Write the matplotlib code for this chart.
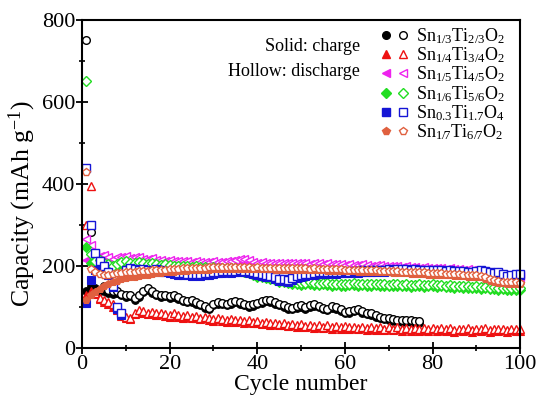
import matplotlib

matplotlib.use("Agg")
import matplotlib.pyplot as plt
import numpy as np
from matplotlib.legend_handler import HandlerTuple
from matplotlib.lines import Line2D
from matplotlib.ticker import MultipleLocator

plt.rcParams["font.family"] = "Liberation Serif"
plt.rcParams["mathtext.fontset"] = "custom"
plt.rcParams["mathtext.rm"] = "Liberation Serif"
plt.rcParams["mathtext.it"] = "Liberation Serif:italic"

# capacity (mAh g-1) per cycle
black_dis = [
    750, 282, 230, 185, 150, 142, 140, 138, 132, 128,
    130, 122, 128, 140, 146, 138, 132, 128, 130, 126,
    128, 124, 118, 115, 117, 112, 108, 102, 98, 108,
    112, 110, 108, 112, 115, 112, 108, 104, 106, 110,
    114, 118, 116, 112, 108, 104, 100, 98, 102, 105,
    100, 104, 107, 103, 98, 96, 102, 99, 95, 88,
    90, 93, 96, 90, 86, 84, 80, 76, 74, 72,
    70, 69, 68, 67, 67, 66, 66,
]
black_chg = [
    140, 150, 145, 140, 138, 135, 132, 135, 128, 124,
    126, 118, 124, 136, 142, 134, 128, 124, 126, 122,
    124, 120, 114, 111, 113, 108, 104, 98, 95, 104,
    108, 106, 104, 108, 111, 108, 104, 100, 102, 106,
    110, 114, 112, 108, 104, 100, 96, 94, 98, 101,
    96, 100, 103, 99, 94, 92, 98, 95, 91, 84,
    86, 89, 92, 86, 82, 80, 76, 72, 70, 68,
    66, 65, 64, 63, 63, 62, 62,
]
red_dis = [
    300, 395, 135, 122, 118, 112, 108, 98, 82, 76,
    74, 86, 92, 90, 86, 88, 84, 86, 82, 80,
    84, 80, 78, 80, 76, 78, 74, 76, 72, 70,
    74, 70, 68, 71, 67, 69, 66, 68, 64, 66,
    62, 64, 60, 62, 59, 61, 57, 59, 56, 58,
    54, 57, 53, 55, 52, 55, 51, 54, 50, 53,
    50, 52, 49, 52, 48, 51, 48, 50, 47, 50,
    47, 50, 46, 49, 46, 49, 45, 48, 46, 49,
    45, 48, 45, 48, 44, 47, 45, 48, 44, 47,
    45, 48, 44, 47, 45, 47, 44, 47, 45, 46,
]
red_chg = [
    128, 140, 132, 120, 112, 106, 100, 92, 78, 72,
    70, 82, 88, 86, 82, 84, 80, 82, 78, 76,
    80, 76, 74, 76, 72, 74, 70, 72, 68, 66,
    70, 66, 64, 67, 63, 65, 62, 64, 60, 62,
    58, 60, 56, 58, 55, 57, 53, 55, 52, 54,
    50, 53, 49, 51, 48, 51, 47, 50, 46, 49,
    46, 48, 45, 48, 44, 47, 44, 46, 43, 46,
    43, 46, 42, 45, 42, 45, 41, 44, 42, 45,
    41, 44, 41, 44, 40, 43, 41, 44, 40, 43,
    41, 44, 40, 43, 41, 43, 40, 43, 41, 42,
]
magenta_dis = [
    265, 250, 232, 224, 226, 222, 218, 221, 223, 225,
    219, 221, 223, 218, 216, 219, 215, 214, 213, 214,
    212, 213, 211, 212, 210, 211, 209, 210, 209, 211,
    210, 209, 211, 212, 214, 217, 218, 214, 210, 208,
    209, 207, 208, 206, 208, 207, 206, 208, 207, 206,
    207, 205, 206, 207, 205, 206, 204, 205, 204, 203,
    204, 202, 203, 204, 202, 201, 203, 202, 200, 201,
    199, 200, 198, 199, 197, 198, 196, 197, 195, 196,
    194, 195, 193, 195, 192, 193, 191, 192, 189, 190,
    188, 187, 185, 184, 182, 180, 178, 177, 176, 175,
]
magenta_chg = [
    215, 228, 222, 219, 221, 218, 214, 217, 219, 221,
    215, 217, 219, 214, 212, 215, 211, 210, 209, 210,
    208, 209, 207, 208, 206, 207, 205, 206, 205, 207,
    206, 205, 207, 208, 210, 213, 214, 210, 206, 204,
    205, 203, 204, 202, 204, 203, 202, 204, 203, 202,
    203, 201, 202, 203, 201, 202, 200, 201, 200, 199,
    200, 198, 199, 200, 198, 197, 199, 198, 196, 197,
    195, 196, 194, 195, 193, 194, 192, 193, 191, 192,
    190, 191, 189, 191, 188, 189, 187, 188, 185, 186,
    184, 183, 181, 180, 178, 176, 174, 173, 172, 171,
]
green_dis = [
    650, 230, 212, 215, 208, 205, 200, 205, 210, 212,
    208, 206, 209, 207, 205, 207, 204, 203, 205, 203,
    201, 200, 201, 199, 198, 199, 197, 198, 196, 197,
    196, 195, 196, 195, 194, 193, 190, 186, 182, 178,
    176, 174, 171, 169, 166, 164, 162, 160, 159, 158,
    159, 160, 158, 157, 159, 158, 156, 157, 155, 156,
    157, 158, 156, 157, 155, 156, 157, 155, 156, 154,
    155, 156, 154, 155, 153, 154, 155, 153, 154, 155,
    153, 154, 152, 153, 151, 152, 150, 151, 149, 150,
    148, 149, 147, 148, 146, 147, 146, 145, 146, 145,
]
green_chg = [
    246, 207, 219, 210, 204, 201, 197, 201, 206, 208,
    204, 202, 205, 203, 201, 203, 200, 199, 201, 199,
    197, 196, 197, 195, 194, 195, 193, 194, 192, 193,
    192, 191, 192, 191, 190, 189, 186, 182, 178, 174,
    172, 170, 167, 165, 162, 160, 158, 156, 155, 154,
    155, 156, 154, 153, 155, 154, 152, 153, 151, 152,
    153, 154, 152, 153, 151, 152, 153, 151, 152, 150,
    151, 152, 150, 151, 149, 150, 151, 149, 150, 151,
    149, 150, 148, 149, 147, 148, 146, 147, 145, 146,
    144, 145, 143, 144, 142, 143, 142, 141, 142, 141,
]
blue_dis = [
    440, 300, 232, 212, 200, 185, 150, 100, 85, 190,
    195, 192, 190, 193, 190, 188, 192, 190, 188, 186,
    184, 183, 182, 181, 180, 181, 180, 182, 183, 185,
    186, 187, 188, 187, 188, 189, 188, 187, 185, 182,
    180, 178, 176, 172, 168, 167, 166, 170, 175, 178,
    180, 181, 183, 184, 185, 184, 186, 185, 186, 187,
    186, 188, 187, 189, 188, 190, 189, 191, 190, 192,
    191, 192, 193, 192, 191, 192, 190, 191, 190, 189,
    190, 189, 188, 189, 187, 188, 187, 186, 185, 188,
    190, 188, 185, 182, 185, 180, 176, 178, 180, 181,
]
blue_chg = [
    110, 165, 190, 196, 188, 178, 148, 96, 80, 186,
    191, 188, 186, 189, 186, 184, 188, 186, 184, 182,
    180, 179, 178, 177, 176, 177, 176, 178, 179, 181,
    182, 183, 184, 183, 184, 185, 184, 183, 181, 178,
    176, 174, 172, 168, 164, 163, 162, 166, 171, 174,
    176, 177, 179, 180, 181, 180, 182, 181, 182, 183,
    182, 184, 183, 185, 184, 186, 185, 187, 186, 188,
    187, 188, 189, 188, 187, 188, 186, 187, 186, 185,
    186, 185, 184, 185, 183, 184, 183, 182, 181, 184,
    186, 184, 181, 178, 181, 176, 172, 174, 176, 177,
]
orange_dis = [
    430, 192, 186, 181, 179, 178, 180, 182, 183, 184,
    185, 186, 187, 187, 188, 189, 190, 190, 191, 192,
    193, 193, 194, 195, 195, 196, 196, 196, 197, 197,
    197, 197, 198, 198, 197, 198, 197, 197, 196, 197,
    196, 196, 196, 195, 196, 195, 195, 194, 195, 194,
    194, 193, 194, 193, 193, 192, 193, 192, 192, 191,
    191, 191, 190, 190, 190, 189, 189, 188, 188, 188,
    187, 187, 186, 186, 185, 185, 184, 184, 183, 183,
    182, 182, 181, 181, 180, 180, 179, 178, 178, 177,
    176, 172, 168, 165, 163, 162, 161, 160, 160, 159,
]
orange_chg = [
    118, 128, 136, 144, 150, 156, 160, 164, 167, 170,
    172, 174, 176, 178, 179, 181, 182, 183, 184, 185,
    186, 187, 188, 188, 189, 190, 190, 191, 191, 192,
    192, 192, 193, 193, 193, 193, 193, 193, 192, 192,
    192, 192, 192, 191, 191, 191, 191, 190, 190, 190,
    190, 189, 189, 189, 189, 188, 188, 188, 188, 187,
    187, 187, 186, 186, 186, 185, 185, 184, 184, 184,
    183, 183, 182, 182, 181, 181, 180, 180, 179, 179,
    178, 178, 177, 177, 176, 176, 175, 174, 174, 173,
    172, 168, 164, 161, 159, 158, 157, 156, 156, 155,
]

labels = [
    r"Sn$_{1/3}$Ti$_{2/3}$O$_2$",
    r"Sn$_{1/4}$Ti$_{3/4}$O$_2$",
    r"Sn$_{1/5}$Ti$_{4/5}$O$_2$",
    r"Sn$_{1/6}$Ti$_{5/6}$O$_2$",
    r"Sn$_{0.3}$Ti$_{1.7}$O$_4$",
    r"Sn$_{1/7}$Ti$_{6/7}$O$_2$",
]
series = [
    (black_chg, black_dis, "#000000", "o"),
    (red_chg, red_dis, "#ee1111", "^"),
    (magenta_chg, magenta_dis, "#ee22ee", "<"),
    (green_chg, green_dis, "#22dd22", "D"),
    (blue_chg, blue_dis, "#1515d5", "s"),
    (orange_chg, orange_dis, "#e0603f", "p"),
]

fig = plt.figure(figsize=(5.43, 3.99), dpi=100)
ax = fig.add_axes([0.151, 0.128, 0.807, 0.822])

handles = []
for chg, dis, color, marker in series:
    ms = 4.6 if marker == "D" else 5.5
    cyc = np.arange(1, len(chg) + 1)
    ax.plot(cyc, chg, linestyle="none", marker=marker, ms=ms, color=color,
            mec=color, mew=0.8, clip_on=False)
    ax.plot(cyc, dis, linestyle="none", marker=marker, ms=ms, mfc="white",
            mec=color, mew=1.0, clip_on=False)
    h_solid = Line2D([], [], linestyle="none", marker=marker, ms=ms, color=color)
    h_hollow = Line2D([], [], linestyle="none", marker=marker, ms=ms, mfc="none",
                      mec=color, mew=1.0)
    handles.append((h_solid, h_hollow))

ax.set_xlim(0, 100)
ax.set_ylim(0, 800)
ax.xaxis.set_major_locator(MultipleLocator(20))
ax.xaxis.set_minor_locator(MultipleLocator(10))
ax.yaxis.set_major_locator(MultipleLocator(200))
ax.yaxis.set_minor_locator(MultipleLocator(100))
ax.tick_params(which="major", direction="inout", length=8, width=1.3,
               labelsize=16, pad=1)
ax.tick_params(which="minor", direction="inout", length=5, width=1.2)
for s in ax.spines.values():
    s.set_linewidth(1.5)

ax.set_xlabel("Cycle number", fontsize=17, labelpad=0)
ax.set_ylabel(r"Capacity (mAh g$^{\mathregular{-1}}$)", fontsize=18.5, labelpad=2)
ax.yaxis.set_label_coords(-0.1, 0.44)

ax.text(0.635, 0.92, "Solid: charge", transform=ax.transAxes, ha="right",
        va="center", fontsize=13)
ax.text(0.635, 0.842, "Hollow: discharge", transform=ax.transAxes, ha="right",
        va="center", fontsize=13)

ax.legend(handles, labels, handler_map={tuple: HandlerTuple(ndivide=None, pad=0.3)},
          loc="upper left", bbox_to_anchor=(0.652, 1.02), frameon=False,
          fontsize=13, handlelength=1.6, handletextpad=0.4, labelspacing=-0.02,
          borderpad=0.2)

fig.savefig("out.png", dpi=100)
